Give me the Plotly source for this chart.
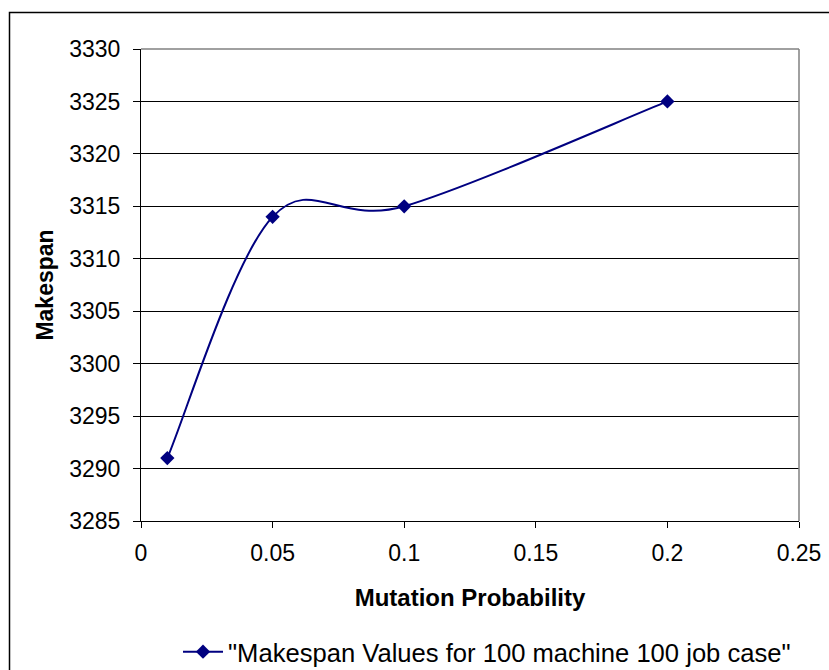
import plotly.graph_objects as go

mutation_prob = [0.01, 0.05, 0.1, 0.2]
makespan = [3291, 3314, 3315, 3325]
series_name = '"Makespan Values for 100 machine 100 job case"'

L, R, T, B = 141, 30, 49, 149
W, H = 829, 670
pw, ph = W - L - R, H - T - B
NAVY = "#000080"

def px(x):
    return (x - L) / pw

def py(y):
    return 1 - (y - T) / ph

# Excel-style smoothed line: cubic Bezier segments through the data points
# (Catmull-Rom tangents, drawn in data coordinates by the axes).
pts = list(zip(mutation_prob, makespan))
n = len(pts)
def tangent(i):
    a = pts[max(i - 1, 0)]
    b = pts[min(i + 1, n - 1)]
    return ((b[0] - a[0]) / 6, (b[1] - a[1]) / 6)
path = f"M {pts[0][0]},{pts[0][1]}"
for i in range(n - 1):
    t0, t1 = tangent(i), tangent(i + 1)
    c1 = (pts[i][0] + t0[0], pts[i][1] + t0[1])
    c2 = (pts[i + 1][0] - t1[0], pts[i + 1][1] - t1[1])
    path += f" C {c1[0]},{c1[1]} {c2[0]},{c2[1]} {pts[i+1][0]},{pts[i+1][1]}"

fig = go.Figure()
fig.add_trace(go.Scatter(
    x=mutation_prob, y=makespan, name=series_name, mode="markers", showlegend=False,
    marker=dict(symbol="diamond", size=11, color=NAVY),
))
fig.add_trace(go.Scatter(
    x=[None], y=[None], name=series_name, mode="lines+markers",
    line=dict(color=NAVY, width=2),
    marker=dict(symbol="diamond", size=11, color=NAVY),
))

font = "Liberation Sans, Arial, sans-serif"
fig.update_layout(
    width=W, height=H,
    margin=dict(l=L, r=R, t=T, b=B),
    paper_bgcolor="white", plot_bgcolor="white",
    font=dict(family=font, color="black", size=23),
    showlegend=True,
    legend=dict(orientation="h", xref="container", yref="container",
                x=178 / W, xanchor="left", y=1 - 652 / H, yanchor="middle",
                font=dict(size=25.6), itemwidth=40, bgcolor="rgba(0,0,0,0)"),
    xaxis=dict(range=[0, 0.25], dtick=0.05, tick0=0, showgrid=False, zeroline=False,
               showline=True, linecolor="black", linewidth=1, automargin=False,
               ticks="outside", ticklen=6, tickcolor="black", ticklabelstandoff=5,
               title=dict(text="<b>Mutation Probability</b>", font=dict(size=24), standoff=24)),
    yaxis=dict(range=[3285, 3330], dtick=5, tick0=3285, showgrid=True, gridcolor="black", gridwidth=1,
               zeroline=False, showline=True, linecolor="black", linewidth=1, automargin=False,
               ticks="outside", ticklen=7, tickcolor="black", ticklabelstandoff=8,
               title=dict(text="<b>Makespan</b>", font=dict(size=23), standoff=9)),
    shapes=[
        dict(type="path", xref="x", yref="y", path=path, layer="between",
             line=dict(color=NAVY, width=2)),
        dict(type="line", xref="paper", yref="paper", x0=0, x1=1, y0=1, y1=1,
             line=dict(color="#808080", width=1.5)),
        dict(type="line", xref="paper", yref="paper", x0=1, x1=1, y0=0, y1=1,
             line=dict(color="#808080", width=1.5)),
        dict(type="rect", xref="paper", yref="paper", x0=px(9.5), x1=px(840), y0=py(690), y1=py(12.5),
             line=dict(color="black", width=1.5), layer="below"),
    ],
)

fig.write_html("out.html")
